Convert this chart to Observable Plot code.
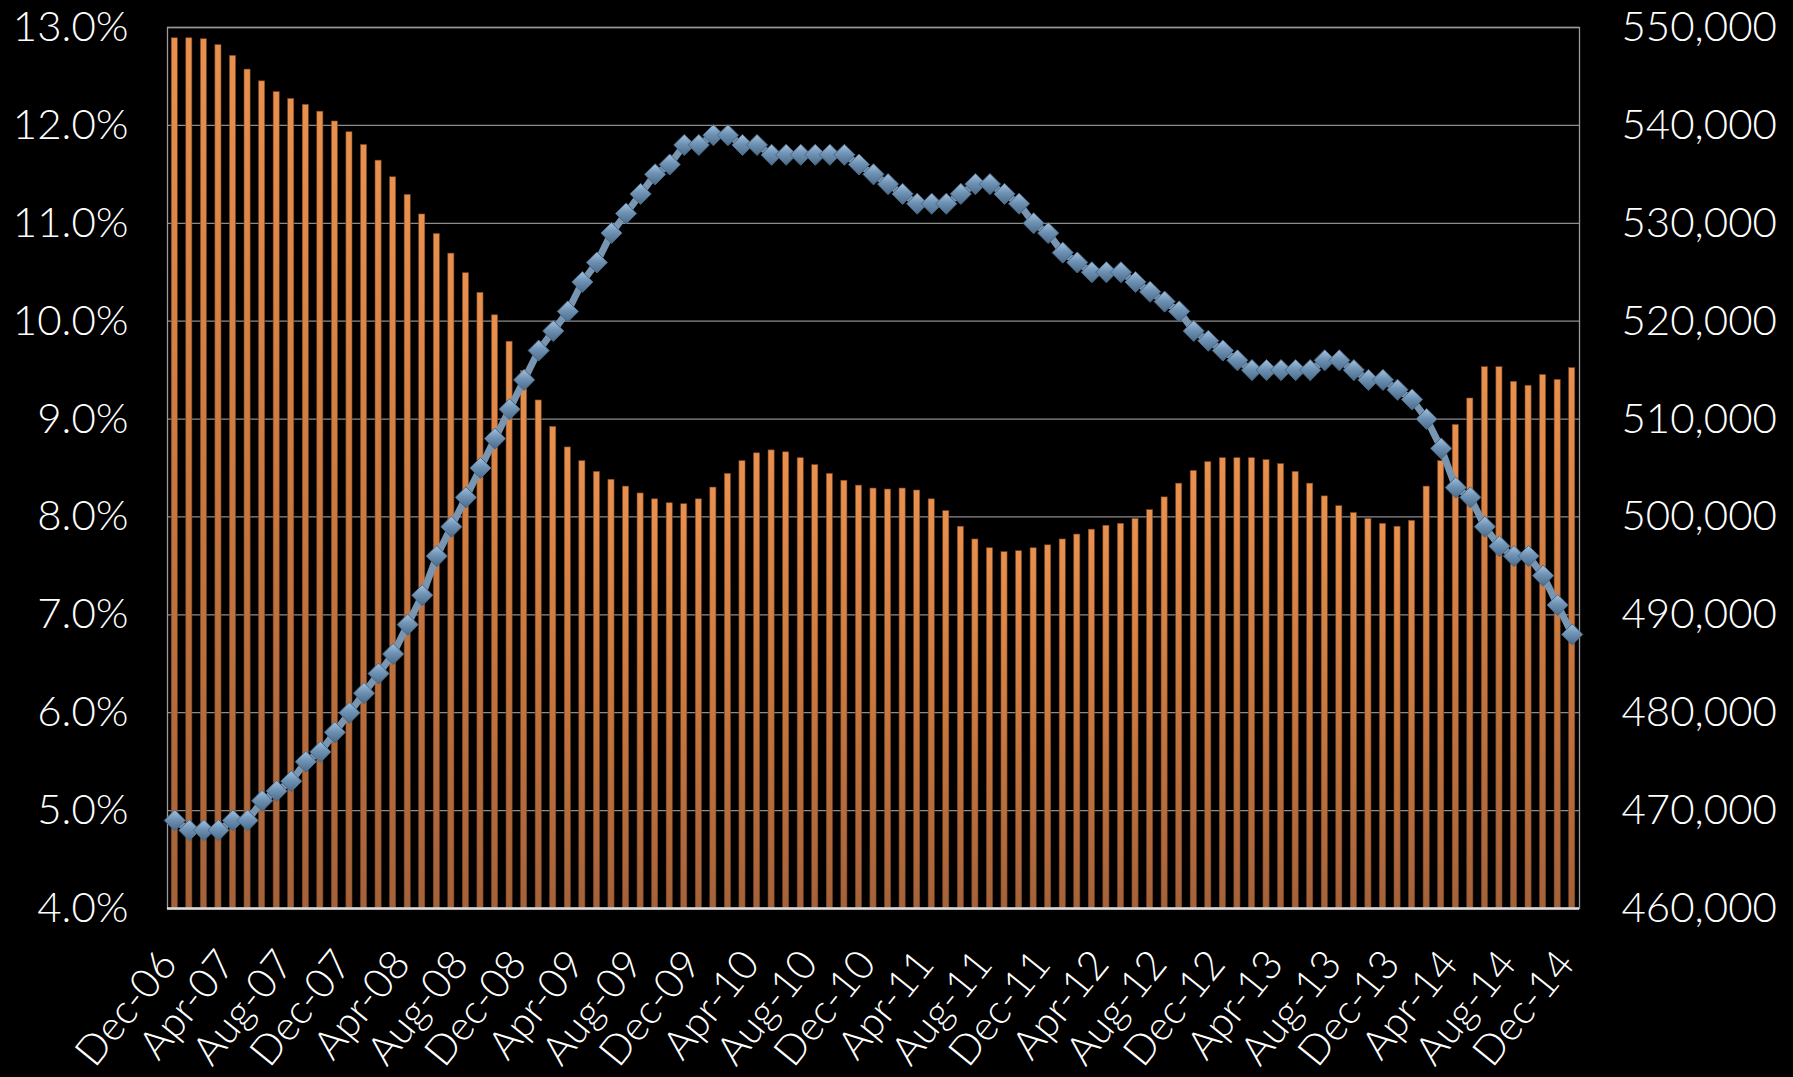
<!DOCTYPE html>
<html>
<head>
<meta charset="utf-8">
<script src="https://cdn.jsdelivr.net/npm/d3@7"></script>
<script src="https://cdn.jsdelivr.net/npm/@observablehq/plot@0.6"></script>
<style>
  html, body { margin: 0; padding: 0; background: #000; }
  #chart svg { display: block; }
</style>
</head>
<body>
<div id="chart"></div>
<script>
// ---- Data ----
const months = [
  "Dec-06",
  "Jan-07","Feb-07","Mar-07","Apr-07","May-07","Jun-07","Jul-07","Aug-07","Sep-07","Oct-07","Nov-07","Dec-07",
  "Jan-08","Feb-08","Mar-08","Apr-08","May-08","Jun-08","Jul-08","Aug-08","Sep-08","Oct-08","Nov-08","Dec-08",
  "Jan-09","Feb-09","Mar-09","Apr-09","May-09","Jun-09","Jul-09","Aug-09","Sep-09","Oct-09","Nov-09","Dec-09",
  "Jan-10","Feb-10","Mar-10","Apr-10","May-10","Jun-10","Jul-10","Aug-10","Sep-10","Oct-10","Nov-10","Dec-10",
  "Jan-11","Feb-11","Mar-11","Apr-11","May-11","Jun-11","Jul-11","Aug-11","Sep-11","Oct-11","Nov-11","Dec-11",
  "Jan-12","Feb-12","Mar-12","Apr-12","May-12","Jun-12","Jul-12","Aug-12","Sep-12","Oct-12","Nov-12","Dec-12",
  "Jan-13","Feb-13","Mar-13","Apr-13","May-13","Jun-13","Jul-13","Aug-13","Sep-13","Oct-13","Nov-13","Dec-13",
  "Jan-14","Feb-14","Mar-14","Apr-14","May-14","Jun-14","Jul-14","Aug-14","Sep-14","Oct-14","Nov-14","Dec-14"
];

// unemployment rate (%), left axis
const rate = [
  4.9,
  4.8, 4.8, 4.8, 4.9, 4.9, 5.1, 5.2, 5.3, 5.5, 5.6, 5.8, 6.0,
  6.2, 6.4, 6.6, 6.9, 7.2, 7.6, 7.9, 8.2, 8.5, 8.8, 9.1, 9.4,
  9.7, 9.9, 10.1, 10.4, 10.6, 10.9, 11.1, 11.3, 11.5, 11.6, 11.8, 11.8,
  11.9, 11.9, 11.8, 11.8, 11.7, 11.7, 11.7, 11.7, 11.7, 11.7, 11.6, 11.5,
  11.4, 11.3, 11.2, 11.2, 11.2, 11.3, 11.4, 11.4, 11.3, 11.2, 11.0, 10.9,
  10.7, 10.6, 10.5, 10.5, 10.5, 10.4, 10.3, 10.2, 10.1, 9.9, 9.8, 9.7,
  9.6, 9.5, 9.5, 9.5, 9.5, 9.5, 9.6, 9.6, 9.5, 9.4, 9.4, 9.3,
  9.2, 9.0, 8.7, 8.3, 8.2, 7.9, 7.7, 7.6, 7.6, 7.4, 7.1, 6.8
];

// employment, right axis
const employment = [
  548900,
  548900, 548800, 548200, 547100, 545700, 544500, 543400, 542700, 542100, 541400, 540400, 539300,
  538000, 536400, 534700, 532900, 530900, 528900, 526900, 524900, 522900, 520600, 517900, 514900,
  511900, 509200, 507100, 505700, 504600, 503800, 503100, 502400, 501800, 501400, 501300, 501800,
  503000, 504400, 505700, 506500, 506800, 506600, 506000, 505300, 504400, 503700, 503200, 502900,
  502800, 502900, 502700, 501800, 500600, 499000, 497700, 496800, 496400, 496500, 496800, 497100,
  497700, 498200, 498700, 499100, 499300, 499800, 500700, 502000, 503400, 504700, 505600, 506000,
  506000, 506000, 505800, 505400, 504600, 503400, 502100, 501100, 500400, 499800, 499300, 499000,
  499600, 503100, 505700, 509400, 512100, 515300, 515300, 513800, 513400, 514500, 514000, 515200
];

const leftTicks = [4, 5, 6, 7, 8, 9, 10, 11, 12, 13];
const rightTicks = [460000, 470000, 480000, 490000, 500000, 510000, 520000, 530000, 540000, 550000];
const xTickLabels = [
  "Dec-06","Apr-07","Aug-07","Dec-07","Apr-08","Aug-08","Dec-08","Apr-09","Aug-09",
  "Dec-09","Apr-10","Aug-10","Dec-10","Apr-11","Aug-11","Dec-11","Apr-12","Aug-12",
  "Dec-12","Apr-13","Aug-13","Dec-13","Apr-14","Aug-14","Dec-14"
];

// ---- Dual-axis mapping: right axis (employment) onto left axis (rate) ----
const rateMin = leftTicks[0], rateMax = leftTicks[leftTicks.length - 1];
const empMin = rightTicks[0], empMax = rightTicks[rightTicks.length - 1];
const toLeft = v => rateMin + (v - empMin) * (rateMax - rateMin) / (empMax - empMin);
const toRight = r => empMin + (r - rateMin) * (empMax - empMin) / (rateMax - rateMin);

const rows = months.map((m, i) => ({month: m, rate: rate[i], emp: employment[i]}));

const font = "Lato, 'Open Sans', 'DejaVu Sans', sans-serif";

const chart = Plot.plot({
  width: 1793,
  height: 1077,
  marginLeft: 167,
  marginRight: 214,
  marginTop: 27,
  marginBottom: 169,
  style: {background: "#000", color: "#fff", fontFamily: font, fontSize: "42px", fontWeight: 300},
  x: {type: "band", domain: months, paddingInner: 0.58, paddingOuter: 0.29, label: null},
  y: {domain: [rateMin, rateMax], label: null},
  marks: [
    Plot.ruleY(leftTicks, {stroke: "#8c8c8c", strokeWidth: 1.3}),
    Plot.barY(rows, {x: "month", y1: rateMin, y2: d => toLeft(d.emp), fill: "url(#barGrad)", stroke: "#7d4422", strokeWidth: 0.6}),
    Plot.frame({stroke: "#9a9a9a", strokeWidth: 1.3}),
    Plot.ruleY([rateMin], {stroke: "#dcdcdc", strokeWidth: 2.5}),
    Plot.line(rows, {x: "month", y: "rate", stroke: "#7896b2", strokeWidth: 7}),
    Plot.dot(rows, {x: "month", y: "rate", symbol: "diamond2", r: 9.5, fill: "url(#dotGrad)", stroke: "#4a6783", strokeWidth: 1}),
    Plot.axisY(leftTicks, {anchor: "left", tickSize: 0, tickPadding: 39, tickFormat: d => d.toFixed(1) + "%", fill: "#fff", fontSize: 42}),
    Plot.axisY(rightTicks.map(toLeft), {anchor: "right", tickSize: 0, tickPadding: 42, tickFormat: d => d3.format(",")(Math.round(toRight(d))), fill: "#fff", fontSize: 42}),
    Plot.axisX(xTickLabels, {anchor: "bottom", tickSize: 0, tickPadding: 48, tickRotate: -51, dx: -6, fill: "#fff", fontSize: 41})
  ]
});

// gradients
const svg = d3.select(chart);
const defs = svg.insert("defs", ":first-child");
const bg = defs.append("linearGradient").attr("id", "barGrad").attr("x1", 0).attr("y1", 0).attr("x2", 0).attr("y2", 1);
bg.append("stop").attr("offset", "0%").attr("stop-color", "#e8914f");
bg.append("stop").attr("offset", "50%").attr("stop-color", "#c9783f");
bg.append("stop").attr("offset", "100%").attr("stop-color", "#a4623a");
const dg = defs.append("linearGradient").attr("id", "dotGrad").attr("x1", 0).attr("y1", 0).attr("x2", 0).attr("y2", 1);
dg.append("stop").attr("offset", "0%").attr("stop-color", "#a6c2dc");
dg.append("stop").attr("offset", "45%").attr("stop-color", "#6f93b5");
dg.append("stop").attr("offset", "100%").attr("stop-color", "#4b6a88");

document.getElementById("chart").appendChild(chart);
</script>
</body>
</html>
